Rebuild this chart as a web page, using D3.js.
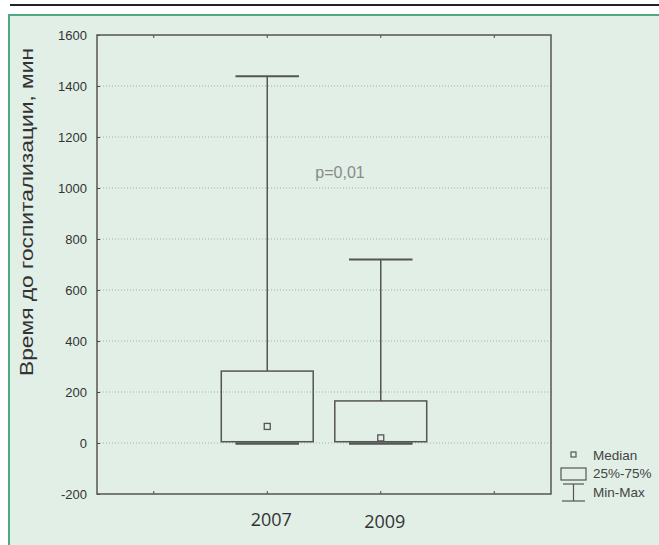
<!DOCTYPE html>
<html>
<head>
<meta charset="utf-8">
<script src="https://cdn.jsdelivr.net/npm/d3@7"></script>
<style>
  body { margin: 0; background: #fff; }
  svg { display: block; }
</style>
</head>
<body>
<div id="chart"></div>
<script>
var w = 659;
var h = 545;

// data
var slots = ["", "2007", "2009", " "];
var groups = ["2007", "2009"];
var mins = [0, 0];
var q1s = [5, 5];
var medians = [65, 20];
var q3s = [282, 165];
var maxs = [1438, 720];
var yTicks = [-200, 0, 200, 400, 600, 800, 1000, 1200, 1400, 1600];

var plotL = 97, plotR = 551, plotT = 35, plotB = 494;

var svg = d3.select("#chart")
	.append("svg")
	.attr("width", w)
	.attr("height", h)
	.style("font-family", "Liberation Sans, Arial, sans-serif");

// rule at the top and the green panel
svg.append("line")
	.attr("x1", 10).attr("x2", w).attr("y1", 5).attr("y2", 5)
	.attr("stroke", "#222").attr("stroke-width", 2);

svg.append("rect")
	.attr("x", 9).attr("y", 15)
	.attr("width", w + 10).attr("height", h)
	.attr("fill", "#e1efe7")
	.attr("stroke", "#4ea97e")
	.attr("stroke-width", 2);

var x = d3.scaleBand()
	.domain(slots)
	.range([plotL, plotR]);

var y = d3.scaleLinear()
	.domain([-200, 1600])
	.range([plotB, plotT]);

// grid
svg.append("g")
	.selectAll("line")
	.data(yTicks.slice(1, -1))
	.enter()
	.append("line")
	.attr("x1", plotL).attr("x2", plotR)
	.attr("y1", function(d){ return y(d); })
	.attr("y2", function(d){ return y(d); })
	.attr("stroke", "#a5b0aa")
	.attr("stroke-width", 1)
	.attr("stroke-dasharray", "1,2");

// y axis
var yAxis = svg.append("g")
	.attr("transform", "translate(" + plotL + ",0)")
	.call(d3.axisLeft(y).tickValues(yTicks).tickSize(-3).tickPadding(10)
		.tickFormat(function(d){ return String(d); }));
yAxis.select(".domain").remove();
yAxis.selectAll("line").attr("stroke", "#444");
yAxis.selectAll("text")
	.attr("fill", "#333")
	.style("font-size", "13px")
	.style("font-family", "Liberation Sans, Arial, sans-serif");

// x axis bottom
var xAxis = svg.append("g")
	.attr("transform", "translate(0," + plotB + ")")
	.call(d3.axisBottom(x).tickSize(-3).tickPadding(0));
xAxis.select(".domain").remove();
xAxis.selectAll("line").attr("stroke", "#444");
xAxis.selectAll("text").remove();

// x axis top ticks
var xTop = svg.append("g")
	.attr("transform", "translate(0," + plotT + ")")
	.call(d3.axisTop(x).tickSize(-3));
xTop.select(".domain").remove();
xTop.selectAll("line").attr("stroke", "#444");
xTop.selectAll("text").remove();

// category labels
svg.append("g")
	.selectAll("text")
	.data(groups)
	.enter()
	.append("text")
	.attr("x", function(d){ return x(d) + x.bandwidth() / 2 + 4; })
	.attr("y", function(d, i){ return 526 + i * 2; })
	.attr("text-anchor", "middle")
	.attr("fill", "#333")
	.style("font-family", "Open Sans, sans-serif")
	.style("font-size", "18px")
	.text(function(d){ return d; });

// frame
svg.append("rect")
	.attr("x", plotL).attr("y", plotT)
	.attr("width", plotR - plotL).attr("height", plotB - plotT)
	.attr("fill", "none")
	.attr("stroke", "#555")
	.attr("stroke-width", 1.5);

// boxes
var boxW = x.bandwidth() * 0.81;
var capW = x.bandwidth() * 0.56;
var stroke = "#555";

var box = svg.append("g")
	.selectAll("g")
	.data(groups)
	.enter()
	.append("g")
	.attr("transform", function(d){ return "translate(" + (x(d) + x.bandwidth() / 2) + ",0)"; });

box.append("line")
	.attr("x1", 0).attr("x2", 0)
	.attr("y1", function(d, i){ return y(maxs[i]); })
	.attr("y2", function(d, i){ return y(q3s[i]); })
	.attr("stroke", stroke).attr("stroke-width", 1.5);

box.append("line")
	.attr("x1", -capW / 2).attr("x2", capW / 2)
	.attr("y1", function(d, i){ return y(maxs[i]); })
	.attr("y2", function(d, i){ return y(maxs[i]); })
	.attr("stroke", stroke).attr("stroke-width", 2);

box.append("rect")
	.attr("x", -boxW / 2)
	.attr("width", boxW)
	.attr("y", function(d, i){ return y(q3s[i]); })
	.attr("height", function(d, i){ return y(q1s[i]) - y(q3s[i]); })
	.attr("fill", "none")
	.attr("stroke", stroke).attr("stroke-width", 1.5);

box.append("line")
	.attr("x1", -capW / 2).attr("x2", capW / 2)
	.attr("y1", function(d, i){ return y(mins[i]) + 0.5; })
	.attr("y2", function(d, i){ return y(mins[i]) + 0.5; })
	.attr("stroke", stroke).attr("stroke-width", 2.5);

box.append("rect")
	.attr("x", -3).attr("width", 6).attr("height", 6)
	.attr("y", function(d, i){ return y(medians[i]) - 3; })
	.attr("fill", "#e1efe7")
	.attr("stroke", stroke).attr("stroke-width", 1.3);

// p value
svg.append("text")
	.attr("x", 340).attr("y", 178)
	.attr("text-anchor", "middle")
	.attr("fill", "#8a8a8a")
	.style("font-size", "16px")
	.text("p=0,01");

// y title
svg.append("text")
	.attr("transform", "translate(33,212) rotate(-90)")
	.attr("text-anchor", "middle")
	.attr("fill", "#333")
	.style("font-size", "19px")
	.attr("textLength", 328)
	.attr("lengthAdjust", "spacingAndGlyphs")
	.text("Время до госпитализации, мин");

// legend
var lg = svg.append("g").attr("fill", "#444").style("font-size", "13.5px");
lg.append("rect").attr("x", 571).attr("y", 452).attr("width", 5).attr("height", 5)
	.attr("fill", "none").attr("stroke", stroke).attr("stroke-width", 1.2);
lg.append("text").attr("x", 593).attr("y", 460).text("Median");
lg.append("rect").attr("x", 561).attr("y", 468).attr("width", 25).attr("height", 12)
	.attr("fill", "none").attr("stroke", stroke).attr("stroke-width", 1.2);
lg.append("text").attr("x", 593).attr("y", 478).text("25%-75%");
lg.append("line").attr("x1", 563).attr("x2", 584).attr("y1", 484).attr("y2", 484)
	.attr("stroke", stroke).attr("stroke-width", 1.2);
lg.append("line").attr("x1", 573.5).attr("x2", 573.5).attr("y1", 484).attr("y2", 501)
	.attr("stroke", stroke).attr("stroke-width", 1.2);
lg.append("line").attr("x1", 562).attr("x2", 585).attr("y1", 501).attr("y2", 501)
	.attr("stroke", stroke).attr("stroke-width", 1.2);
lg.append("text").attr("x", 593).attr("y", 497).text("Min-Max");
</script>
</body>
</html>
